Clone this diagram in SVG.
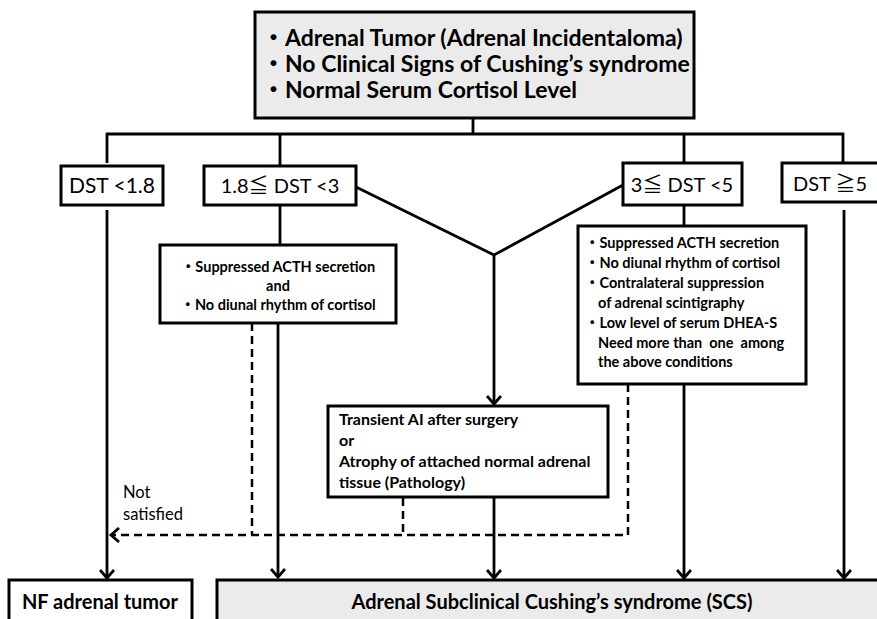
<svg xmlns="http://www.w3.org/2000/svg" width="877" height="619" viewBox="0 0 877 619">
<style>
.box{fill:#fff;stroke:#000;stroke-width:3}
.gbox{fill:#ebebeb;stroke:#000;stroke-width:3}
.ln{fill:none;stroke:#000;stroke-width:2.8}
.dl{fill:none;stroke:#000;stroke-width:2.5;stroke-dasharray:8 5}
.t{font-family:Lato,"Noto Sans CJK JP",sans-serif;fill:#000}
.b{font-weight:bold}
</style>
<defs>
<marker id="ah" markerUnits="userSpaceOnUse" markerWidth="16" markerHeight="16" refX="12" refY="8" orient="auto">
<path d="M4,1 L12,8 L4,15" fill="none" stroke="#000" stroke-width="2.8"/>
</marker>
</defs>
<g id="connectors">
<path class="ln" d="M473,118 V134 M107,163 V134 H843 V163 M280,134 V166 M684,134 V163"/>
<path class="ln" d="M356,187 L494,255 L623,185"/>
<path class="ln" d="M494,255 V404" marker-end="url(#ah)"/>
<path class="ln" d="M107,210 V578" marker-end="url(#ah)"/>
<path class="ln" d="M280,205 V245"/>
<path class="ln" d="M278,323 V577" marker-end="url(#ah)"/>
<path class="ln" d="M684,205 V226"/>
<path class="ln" d="M684,384 V578" marker-end="url(#ah)"/>
<path class="ln" d="M844,210 V578" marker-end="url(#ah)"/>
<path class="ln" d="M494,497 V578" marker-end="url(#ah)"/>
<path class="dl" d="M252,323 V535"/>
<path class="dl" d="M403,498 V535"/>
<path class="dl" d="M628,384 V535 H111" marker-end="url(#ah)"/>
<text class="t" x="123" y="498" font-size="16.5">Not</text>
<text class="t" x="123" y="520" font-size="16.5">satisfied</text>
</g>
<g id="top">
<rect class="gbox" x="255" y="12" width="439" height="106"/>
<text class="t b" font-size="23"><tspan x="262" y="46">・Adrenal Tumor (Adrenal Incidentaloma)</tspan><tspan x="262" y="72">・No Clinical Signs of Cushing’s syndrome</tspan><tspan x="262" y="98">・Normal Serum Cortisol Level</tspan></text>
</g>
<g id="dst1">
<rect class="box" x="61" y="166" width="102" height="39"/>
<text class="t" x="112" y="193" font-size="21" text-anchor="middle">DST &lt;1.8</text>
</g>
<g id="dst2">
<rect class="box" x="204" y="166" width="152" height="39"/>
<text class="t" x="280" y="193" font-size="20" text-anchor="middle">1.8≦ DST &lt;3</text>
</g>
<g id="dst3">
<rect class="box" x="623" y="163" width="119" height="42"/>
<text class="t" x="682" y="192" font-size="20" text-anchor="middle">3≦ DST &lt;5</text>
</g>
<g id="dst4">
<rect class="box" x="782" y="163" width="100" height="39"/>
<text class="t" x="830" y="191" font-size="20" text-anchor="middle">DST ≧5</text>
</g>
<g id="cond1">
<rect class="box" x="160" y="245" width="236" height="78"/>
<text class="t b" font-size="14.5" text-anchor="middle"><tspan x="278" y="272">・Suppressed ACTH secretion</tspan><tspan x="278" y="291">and</tspan><tspan x="278" y="310">・No diunal rhythm of cortisol</tspan></text>
</g>
<g id="cond2">
<rect class="box" x="578" y="226" width="228" height="158"/>
<text class="t b" font-size="14.5" xml:space="preserve"><tspan x="585" y="248">・Suppressed ACTH secretion</tspan><tspan x="585" y="268">・No diunal rhythm of cortisol</tspan><tspan x="585" y="288">・Contralateral suppression</tspan><tspan x="598" y="308">of adrenal scintigraphy</tspan><tspan x="585" y="328">・Low level of serum DHEA-S</tspan><tspan x="598" y="348">Need more than  one  among</tspan><tspan x="598" y="367">the above conditions</tspan></text>
</g>
<g id="transient">
<rect class="box" x="328" y="406" width="280" height="91"/>
<text class="t b" font-size="16"><tspan x="339" y="425">Transient AI after surgery</tspan><tspan x="339" y="446">or</tspan><tspan x="339" y="467">Atrophy of attached normal adrenal</tspan><tspan x="339" y="488">tissue (Pathology)</tspan></text>
</g>
<g id="nf">
<rect class="box" x="9" y="580" width="183" height="50"/>
<text class="t b" x="100" y="609" font-size="20" text-anchor="middle">NF adrenal tumor</text>
</g>
<g id="scs">
<rect class="gbox" x="217" y="580" width="670" height="50"/>
<text class="t b" x="552" y="609" font-size="20" text-anchor="middle">Adrenal Subclinical Cushing’s syndrome (SCS)</text>
</g>
</svg>
